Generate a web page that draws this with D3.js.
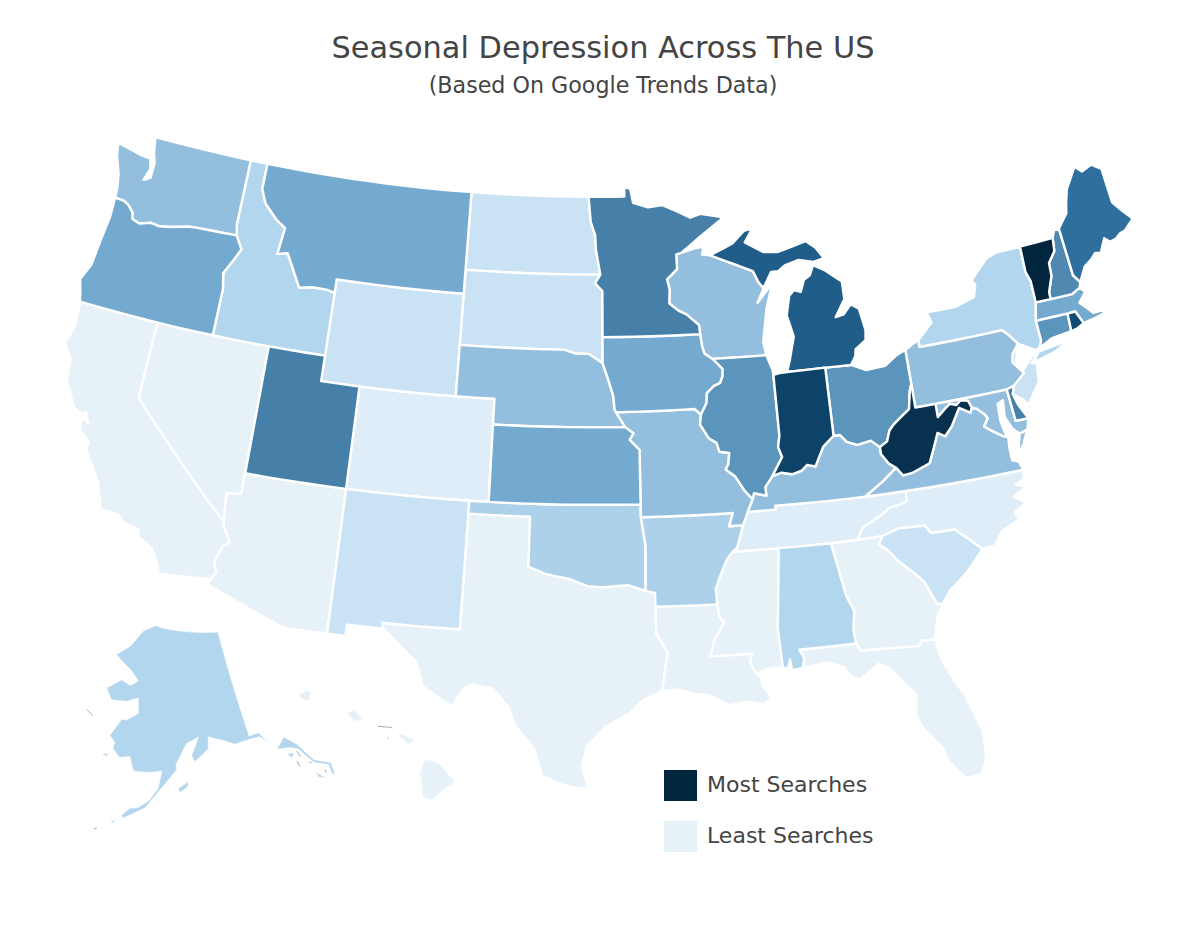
<!DOCTYPE html>
<html lang="en">
<head>
<meta charset="UTF-8">
<title>Seasonal Depression Across The US</title>
<script src="https://d3js.org/d3.v7.min.js"></script>
<style>
  body { margin: 0; background: #fff; }
  text { font-family: "DejaVu Sans", sans-serif; fill: #444; }
  .state { stroke: #fff; stroke-width: 2.4px; stroke-linejoin: round; }
  .inset { stroke-width: 0.6px; }
  .speck { fill: none; stroke: #aaa; stroke-width: 1px; }
</style>
</head>
<body>
<svg id="map" width="1200" height="940"></svg>
<script>
const titleText = "Seasonal Depression Across The US";
const subtitleText = "(Based On Google Trends Data)";
const legendLabels = ["Most Searches", "Least Searches"];
const legendValues = [100, 0];

const stateCodes = ["CA","NV","AZ","TX","LA","MS","GA","FL","HI","CO","TN","NC","ND","SD","WY","NM","SC","NJ","ID","NY","AL","AK","OK","AR","WA","WI","NE","MO","PA","VA","KY","MD","OR","MT","KS","IA","MA","OH","IL","CT","MN","UT","DE","NH","ME","MI","RI","IN","WV","VT"];
const stateValues = [0,0,0,0,0,0,0,0,0,5,5,5,15,15,15,15,15,15,25,25,25,25,27,27,35,35,35,35,35,35,35,35,50,50,50,50,50,60,60,60,70,70,70,66,80,85,90,92,97,100];

const colorStops = [0,5,15,25,35,50,60,70,80,90,100];
const colorRange = ["#e6f1f8","#deedf7","#c9e3f4","#b3d6ef","#93bedd","#74aad0","#5c95bb","#4680a8","#2e6f9d","#114a73","#03263f"];

// shared borders, lon/lat
const mnWi = [[-92.01,46.71],[-92.29,46.66],[-92.29,46.08],[-92.87,45.7],[-92.75,45.3],[-92.8,44.75],[-92.3,44.45],[-91.9,44.3],[-91.25,43.85],[-91.22,43.5]];
const wiIa = [[-91.22,43.5],[-91.15,43],[-91.05,42.73],[-90.64,42.51]];
const iaIl = [[-90.64,42.51],[-90.42,42.33],[-90.15,42.1],[-90.18,41.81],[-90.34,41.55],[-90.66,41.46],[-91.05,41.2],[-91.1,40.82],[-91.42,40.38]];
const moIl = [[-91.42,40.38],[-91.5,40],[-91.1,39.45],[-90.72,39.25],[-90.6,38.9],[-90.12,38.83],[-90.2,38.4],[-90.35,38.2],[-89.9,37.9],[-89.5,37.33],[-89.13,36.98]];
const tnAr = [[-89.7,36],[-90.07,35.13],[-90.3,35]];
const msAr = [[-90.3,35],[-90.6,34.7],[-90.95,34.1],[-91.2,33.6],[-91.17,33]];
const msLa = [[-91.17,33],[-91.1,32.5],[-90.9,32.3],[-91.4,31.6],[-91.63,31],[-89.73,31],[-89.85,30.65],[-89.6,30.2]];
const ilKy = [[-89.13,36.98],[-89.05,37.2],[-88.45,37.07],[-88.47,37.4],[-88.07,37.8]];
const inKy = [[-88.07,37.8],[-87.6,37.9],[-87.1,37.8],[-86.6,37.9],[-86.3,38.1],[-85.9,38],[-85.7,38.3],[-85.4,38.73],[-84.82,39.1]];
const ohKy = [[-84.82,39.1],[-84.5,39.1],[-84.2,38.8],[-83.7,38.63],[-83,38.72],[-82.6,38.42]];
const ohWv = [[-82.6,38.42],[-82.2,38.6],[-82,39],[-81.75,39.2],[-81.4,39.4],[-80.85,39.7],[-80.65,40.4],[-80.52,40.64]];
const kyWv = [[-82.6,38.42],[-82.6,38.15],[-82.3,37.75],[-81.97,37.54]];
const kyVa = [[-81.97,37.54],[-82.7,37.1],[-83.68,36.6]];
const kyTn = [[-83.68,36.6],[-88.07,36.65],[-88.07,36.5],[-89.42,36.5]];
const vaTn = [[-83.68,36.6],[-81.68,36.59]];
const ncTn = [[-81.68,36.59],[-81.7,36.2],[-82,36.12],[-82.6,36.03],[-83.1,35.77],[-84,35.42],[-84.32,34.99]];
const vaNc = [[-81.68,36.59],[-75.87,36.55]];
const wvVa = [[-81.97,37.54],[-81.68,37.2],[-81.23,37.24],[-80.3,37.5],[-80,38],[-79.65,38.6],[-79.3,38.42],[-78.87,38.77],[-78.35,39.4],[-77.83,39.13],[-77.72,39.32]];
const wvMd = [[-77.72,39.32],[-77.83,39.6],[-78.2,39.68],[-78.45,39.53],[-78.77,39.62],[-79.05,39.47],[-79.49,39.2],[-79.48,39.72]];
const wvPa = [[-79.48,39.72],[-80.52,39.72],[-80.52,40.64]];
const paMd = [[-79.48,39.72],[-75.79,39.72]];
const vaMd = [[-77.72,39.32],[-77.46,39.22],[-77.12,38.93],[-77.04,38.79],[-77.3,38.5],[-77,38.3],[-76.5,38],[-76.24,37.9]];
const columbia = [[-124,46.27],[-123.5,46.25],[-123.2,46.15],[-122.85,45.9],[-122.75,45.65],[-122.3,45.55],[-121.7,45.7],[-121.2,45.65],[-120.6,45.73],[-119.6,45.92],[-119,45.95],[-116.92,46]];
const snake = [[-116.92,46],[-116.5,45.5],[-116.85,44.95],[-117.2,44.45],[-117.03,43.85],[-117.03,42]];
const caAz = [[-114.63,35],[-114.57,34.8],[-114.15,34.27],[-114.45,34.05],[-114.72,33.4],[-114.52,33.03],[-114.72,32.72]];
const idMt = [[-116.05,49],[-116.05,48],[-115.7,47.45],[-114.9,46.9],[-114.35,46.65],[-114.5,45.6],[-113.95,45.7],[-113.45,45.05],[-113,44.45],[-112.3,44.55],[-111.5,44.55],[-111.05,44.47]];
const redRiver = [[-100,34.56],[-99.2,34.3],[-98.1,34.13],[-97.2,33.85],[-96.5,33.8],[-95.3,33.88],[-94.48,33.64]];
const sabine = [[-94.04,31.99],[-93.55,31.2],[-93.7,30.5],[-93.85,29.72]];
const neIa = [[-96.45,42.49],[-96.1,41.7],[-95.9,41.2],[-95.85,40.7],[-95.77,40.58]];
const neKsMo = [[-95.31,40],[-94.9,39.75],[-95.1,39.5],[-94.61,39.11],[-94.62,37]];
const neSd = [[-104.05,43],[-98.5,43],[-97.85,42.85],[-97.2,42.85],[-96.45,42.49]];
const ndMn = [[-97.23,49],[-97.1,48],[-96.85,47.5],[-96.8,46.9],[-96.56,45.94]];
const sdMn = [[-96.56,45.94],[-96.85,45.6],[-96.45,45.3],[-96.45,43.5]];
const flGa = [[-85,31],[-84.86,30.7],[-82.2,30.57],[-82.05,30.75],[-81.45,30.72]];
const alGa = [[-85.6,34.98],[-85.18,32.87],[-84.9,32.25],[-85.05,31.55],[-85,31]];
const gaSc = [[-83.11,35],[-83.35,34.7],[-83,34.47],[-82.55,33.95],[-81.9,33.4],[-81.5,33],[-81.1,32.1],[-80.85,32.03]];
const ncSc = [[-83.11,35],[-82.3,35.2],[-81.05,35.15],[-80.8,34.82],[-79.67,34.8],[-78.55,33.86]];
const alMs = [[-88.2,35],[-88.1,34.9],[-88.47,31.9],[-88.4,30.35]];
const paOh = [[-80.52,40.64],[-80.52,41.98]];
const nyPa = [[-79.76,42],[-75.35,42],[-75.05,41.75],[-74.7,41.36]];
const njPa = [[-74.7,41.36],[-75.1,41],[-75.2,40.7],[-74.75,40.2],[-75.4,39.8]];
const vtNy = [[-73.35,45],[-73.4,44],[-73.25,43.6],[-73.27,42.75]];
const vtNh = [[-71.5,45.01],[-71.6,44.5],[-72.05,44.1],[-72.1,43.6],[-72.45,43],[-72.46,42.73]];
const neMe = [[-71.03,45.3],[-70.98,43.4],[-70.7,43.07]];
const wiMiUp = [[-90.4,46.55],[-89.1,46.13],[-88.1,45.8],[-87.85,45.35],[-87.6,45.1]];

const rev = s => s.slice().reverse();
const ring = (...parts) => parts.flat();

const outlines = {
  WA: [ring([[-124.73,48.38],[-124.6,47.9],[-124.2,47.2],[-124.05,46.7]], columbia, [[-117.04,46.42],[-117.04,49],[-122.76,49],[-122.6,48.4],[-122.4,48],[-122.4,47.4],[-122.6,47.3],[-122.75,47.25],[-122.55,47.7],[-122.7,48.12],[-123.2,48.15]])],
  OR: [ring(columbia, snake, [[-124.21,42],[-124.4,42.5],[-124.55,42.84],[-124.2,43.5],[-124.1,44.5],[-123.97,45.5]])],
  CA: [ring([[-124.21,42],[-120,42],[-120,39]], caAz, [[-117.12,32.53],[-117.28,32.9],[-117.7,33.45],[-118.4,33.75],[-118.5,34.03],[-119.2,34.15],[-119.6,34.42],[-120.47,34.45],[-120.65,34.9],[-120.9,35.45],[-121.9,36.6],[-121.8,36.85],[-122.4,37.2],[-122.5,37.75],[-122.1,37.55],[-122.35,37.95],[-122.5,37.85],[-123,38],[-123.7,38.9],[-123.85,39.8],[-124.35,40.3],[-124.1,41]])],
  NV: [[[-120,42],[-114.04,42],[-114.04,36.2],[-114.75,36.1],[-114.63,35],[-120,39]]],
  ID: [ring([[-117.04,49]], idMt, [[-111.05,42]], rev(snake), [[-117.04,46.42]])],
  MT: [ring([[-116.05,49],[-104.05,49],[-104.05,45],[-111.05,45]], rev(idMt))],
  WY: [[[-111.05,45],[-104.05,45],[-104.05,41],[-111.05,41]]],
  UT: [[[-114.04,42],[-111.05,42],[-111.05,41],[-109.05,41],[-109.05,37],[-114.04,37]]],
  CO: [[[-109.05,41],[-102.05,41],[-102.05,37],[-109.05,37]]],
  AZ: [ring([[-114.04,37],[-109.05,37],[-109.05,31.33],[-111.07,31.33],[-114.81,32.5]], rev(caAz), [[-114.75,36.1],[-114.04,36.2]])],
  NM: [[[-109.05,37],[-103,37],[-103.04,32],[-106.62,32],[-106.53,31.78],[-108.21,31.78],[-108.21,31.33],[-109.05,31.33]]],
  TX: [ring([[-106.62,32],[-103.04,32],[-103,36.5],[-100,36.5]], redRiver, [[-94.04,33.55],[-94.04,33.02]], sabine, [[-94.7,29.4],[-95.3,28.9],[-96.4,28.35],[-97.2,27.6],[-97.4,26.8],[-97.15,25.96],[-97.6,25.95],[-98.3,26.1],[-99.1,26.4],[-99.5,27.5],[-100.3,28.3],[-100.7,29.1],[-101.4,29.77],[-102.35,29.87],[-102.7,29.7],[-103.15,28.98],[-104.5,29.65],[-104.9,30.6],[-106.53,31.78]])],
  OK: [ring([[-103,37],[-94.62,37],[-94.62,36.5],[-94.43,35.4]], rev(redRiver), [[-100,36.5],[-103,36.5]])],
  KS: [ring([[-102.05,40]], neKsMo, [[-102.05,37]])],
  NE: [ring(neSd, neIa, [[-95.31,40],[-102.05,40],[-102.05,41],[-104.05,41]])],
  SD: [ring([[-104.05,45.94]], sdMn, rev(neSd))],
  ND: [ring([[-104.05,49]], ndMn, [[-104.05,45.94]])],
  MN: [ring([[-97.23,49],[-95.15,49],[-95.15,49.38],[-94.8,49.3],[-94.65,48.75],[-93.8,48.55],[-92.95,48.62],[-92,48.3],[-91.4,48.07],[-90.8,48.2],[-89.5,48],[-90.9,47.3]], mnWi, rev(sdMn), rev(ndMn))],
  IA: [ring([[-96.45,43.5]], wiIa, iaIl, [[-91.73,40.61]], rev(neIa))],
  MO: [ring([[-95.77,40.58],[-91.73,40.61]], moIl, [[-89.42,36.5],[-89.7,36],[-90.37,36],[-90.15,36.5]], [[-94.62,36.5]], rev(neKsMo))],
  AR: [ring([[-94.62,36.5],[-90.15,36.5],[-90.37,36]], tnAr, msAr, [[-94.04,33.02],[-94.04,33.55],[-94.48,33.64],[-94.43,35.4]])],
  LA: [ring([[-94.04,33.02]], msLa, [[-89.4,30.05],[-89.4,29.8],[-89,29.2],[-89.4,29],[-90.1,29.15],[-90.9,29.05],[-91.8,29.5],[-92.3,29.55],[-93.2,29.77]], rev(sabine))],
  MS: [ring(alMs, [[-88.85,30.4],[-89.35,30.3]], rev(msLa), rev(msAr))],
  AL: [ring(alGa, [[-87.6,31],[-87.4,30.65],[-87.52,30.28],[-88,30.22],[-88.05,30.65],[-88.15,30.35]], rev(alMs))],
  GA: [ring(alGa.slice(0,1), gaSc, [[-81.15,31.6]], rev(flGa), rev(alGa))],
  FL: [ring([[-87.6,31]], flGa, [[-81.3,29.9],[-80.9,29],[-80.55,28.4],[-80.05,26.9],[-80.12,25.8],[-80.4,25.2],[-81.1,25.15],[-81.7,25.9],[-81.9,26.5],[-82.6,27.4],[-82.8,27.9],[-82.65,28.7],[-83,29.1],[-83.7,29.9],[-84.1,30.1],[-85,29.6],[-85.35,29.7],[-85.7,30.15],[-86.4,30.4],[-87.52,30.28],[-87.4,30.65]])],
  SC: [ring(ncSc, [[-79.1,33.4],[-79.6,33],[-80.4,32.5]], rev(gaSc))],
  NC: [ring([[-84.32,34.99]], ncSc, [[-77.95,33.9],[-77.5,34.4],[-76.6,34.7],[-76.7,35],[-76.1,35.3],[-76.6,35.6],[-75.9,35.9],[-76.4,36.05],[-75.95,36.2]], rev(vaNc), ncTn)],
  TN: [ring(rev(kyTn), vaTn, ncTn, [[-85.6,34.98],[-88.2,35],[-90.3,35],[-90.07,35.13],[-89.7,36]])],
  KY: [ring(ilKy, inKy, ohKy, kyWv, kyVa, kyTn)],
  IL: [ring([[-90.64,42.51],[-87.8,42.49],[-87.55,41.9],[-87.53,41.7],[-87.53,39.35],[-87.65,38.9],[-87.5,38.5]], rev(ilKy), rev(moIl), rev(iaIl))],
  IN: [ring([[-87.53,41.7],[-87.2,41.75],[-86.8,41.76],[-84.8,41.76]], rev(inKy), [[-87.5,38.5],[-87.65,38.9],[-87.53,39.35]])],
  OH: [ring([[-84.8,41.76],[-83.45,41.73],[-82.7,41.45],[-81.7,41.5],[-81,41.85]], rev(paOh), rev(ohWv), rev(ohKy))],
  PA: [ring(paOh, [[-80.08,42.16],[-79.76,42.27]], nyPa, njPa, [[-75.79,39.72]], rev(paMd), wvPa)],
  NY: [ring([[-79.76,42.27],[-78.9,42.85],[-79.05,43.27],[-77.5,43.27],[-76.4,43.5],[-76.2,43.95],[-76.35,44.15],[-75.3,44.85],[-74.7,45]], vtNy, [[-73.5,42.05],[-73.49,41.25],[-73.66,41],[-73.9,40.95]], rev(nyPa)), [[-74.03,40.6],[-73.75,40.87],[-72.6,40.97],[-72,41.07],[-72.9,40.72],[-73.9,40.55]]],
  NJ: [ring(rev(njPa), [[-75.55,39.5],[-75.1,39.2],[-74.9,38.95],[-74.1,39.75],[-74,40.45],[-74.25,40.5],[-74.05,40.65],[-73.9,40.95]])],
  DE: [[[-75.79,39.72],[-75.4,39.8],[-75.55,39.5],[-75.4,39.05],[-75.05,38.45],[-75.7,38.46]]],
  MD: [ring(paMd, [[-75.7,38.46],[-75.05,38.45],[-75.24,38.03],[-75.65,37.95],[-75.95,38.2],[-76.2,38.7],[-76.1,39.35],[-76.4,39.25],[-76.45,38.6],[-76.35,38.1]], rev(vaMd), wvMd)],
  VA: [ring(kyVa, vaTn, vaNc, [[-76,36.9],[-76.3,37],[-76.3,37.5]], rev(vaMd), rev(wvVa)), [[-75.95,37.15],[-75.65,37.95],[-75.24,38.03],[-75.6,37.5]]],
  WV: [ring(rev(kyWv), ohWv, rev(wvPa), rev(wvMd), rev(wvVa))],
  VT: [ring(vtNy, rev(vtNh))],
  NH: [ring(vtNh, [[-71.3,42.7],[-70.82,42.87]], rev(neMe), [[-71.3,45.3]])],
  ME: [ring(neMe, [[-70.25,43.6],[-69.8,43.8],[-69.5,44],[-69.2,43.95],[-69,44.2],[-68.8,44.45],[-68.55,44.25],[-68.2,44.3],[-67.9,44.45],[-67.6,44.5],[-67,44.85],[-67.45,45.3],[-67.8,45.7],[-67.8,47.07],[-68.3,47.35],[-68.9,47.2],[-69.23,47.46],[-70,46.7],[-70.25,46.2],[-70.4,45.8]])],
  MA: [[[-73.5,42.05],[-73.27,42.75],[-72.46,42.73],[-71.3,42.7],[-70.82,42.87],[-70.6,42.65],[-71.05,42.3],[-70.65,41.95],[-70.5,41.78],[-70,41.78],[-70.2,42.07],[-69.95,41.95],[-69.97,41.65],[-70.65,41.55],[-71.12,41.5],[-71.38,42.02],[-71.8,42.02]]],
  RI: [[[-71.8,42.02],[-71.38,42.02],[-71.12,41.5],[-71.5,41.37],[-71.85,41.32]]],
  CT: [[[-73.5,42.05],[-71.8,42.02],[-71.85,41.32],[-72.9,41.25],[-73.66,41],[-73.49,41.25]]],
  MI: [[[-86.8,41.76],[-84.8,41.76],[-83.45,41.73],[-83.15,42.05],[-83.1,42.3],[-82.5,42.6],[-82.42,43],[-82.6,43.85],[-83,44.07],[-83.45,43.72],[-83.9,43.65],[-83.3,44.3],[-83.3,45],[-84.1,45.5],[-84.75,45.78],[-85,45.4],[-85.35,45.25],[-85.6,44.8],[-85.95,44.9],[-86.25,44.7],[-86.5,43.95],[-86.25,43.1],[-86.6,42.2]],
       ring(wiMiUp, [[-87.1,45.7],[-86.7,45.7],[-86.3,45.9],[-85.5,46.05],[-84.7,45.9],[-84.1,46],[-84.5,46.45],[-85,46.75],[-86.6,46.45],[-87.4,46.5],[-88.4,46.95],[-87.9,47.47],[-88.4,47.4],[-89.1,46.95]])],
  WI: [ring([[-92.01,46.71],[-91.2,46.87],[-90.75,46.9],[-90.85,46.6]], wiMiUp, [[-88,44.55],[-87.1,45.25],[-87.55,44.3],[-87.9,43],[-87.8,42.49],[-90.64,42.51]], rev(wiIa), rev(mnWi))],
  AK: [[[-142.2,70.1],[-148.8,70.4],[-155.1,70.7],[-159.2,71],[-162.3,70.4],[-165.1,68.8],[-168.1,67.8],[-163.8,66.55],[-162,65.7],[-163.7,65.2],[-165.7,65.6],[-168.6,64.6],[-167.1,63.6],[-163.9,63.7],[-161.6,64.15],[-161.2,62.75],[-163.4,62],[-164.4,62],[-166.1,60.35],[-165,59.8],[-165.1,59.2],[-163.7,58.5],[-161.9,58.7],[-161,57.4],[-158.1,57.4],[-156.1,57.6],[-156.6,56],[-157.9,54.9],[-159.6,54.1],[-161,53.95],[-162.1,53.2],[-161.8,53],[-158.6,54.1],[-156.3,55.85],[-153.5,57.75],[-153.65,58.2],[-151.7,60.1],[-149.4,60.65],[-150.8,59],[-150.3,58.4],[-147.7,59.5],[-147.5,60.6],[-144.8,60.1],[-142.75,59.6],[-139.9,59.8],[-138,59.8],[-136,58.7],[-136.4,58.9],[-138.1,60.2],[-139.9,60.1]],
       [[-135.6,58.3],[-133.8,59.2],[-132,58.2],[-130.1,56.3],[-127.7,55.5],[-127.8,54.3],[-128.2,54.5],[-128.2,55.4],[-130.3,56.1],[-132,57.7],[-133.3,58.1]],
       [[-153.3,56],[-151.6,56.6],[-151.6,56.2],[-153,55.6]],
       [[-167,58.5],[-165.8,58.7],[-165.9,58.4]],
       [[-134.2,57.6],[-133,57.55],[-133.4,57.1]],
       [[-130.6,55.25],[-129.4,54.35],[-130.4,54.65]],
       [[-163.7,52.5],[-162.6,52.85],[-163.3,52.4]]],
  HI: [[[-155.86,20.16],[-155.46,20.02],[-154.95,19.49],[-155.26,19.3],[-155.66,18.97],[-155.92,19.06],[-156.02,19.73]],
       [[-156.72,20.88],[-156.47,20.83],[-156.14,20.69],[-156.37,20.57],[-156.57,20.75]],
       [[-158.24,21.45],[-158.04,21.58],[-157.76,21.31],[-158,21.23]],
       [[-159.72,21.98],[-159.46,22.12],[-159.33,22.03],[-159.41,21.83],[-159.61,21.85]]]
};

// tiny islands that only show as grey flecks
const alaskaSpecks = [[[-132.4,57.6],[-132.1,57]],[[-132.9,56.7],[-132.7,56.15]],[[-131,56.25],[-130.7,56.1]],[[-129,55.1],[-129,54.8]],[[-171.5,62.2],[-170.1,61.8]],[[-165.9,51.6],[-165.5,51.7]]];
const hawaiiSpecks = [[[-157.29,21.09],[-156.87,21.06]],[[-156.99,20.77],[-156.96,20.72]]];

const svg = d3.select("#map");
const color = d3.scaleLinear().domain(colorStops).range(colorRange);

const lower48 = d3.geoConicEqualArea().parallels([29.5, 45.5]).rotate([96.8, 0]).center([0, 38]).scale(1482).translate([596, 0]);
const alaska = d3.geoConicEqualArea().parallels([55, 65]).rotate([154, 0]).center([13, 65]).scale(620).translate([233, 685]);
const hawaii = d3.geoConicEqualArea().parallels([8, 18]).rotate([157, 0]).center([1.5, 19.6]).scale(2000).translate([437, 778]);

const planar = f => d3.geoPath(d3.geoTransform({ point(x, y) { const p = f([x, y]); this.stream.point(p[0], p[1]); } }));
const paths = {
  AK: planar(alaska),
  HI: planar(hawaii),
  other: planar(c => { const p = lower48(c); return [p[0], 479 + p[1] * 0.989]; })
};

// split long edges so straight parallels stay curved after projecting
const densify = r => {
  const out = [];
  r.concat([r[0]]).forEach((pt, i, all) => {
    if (i === 0) { out.push(pt); return; }
    const prev = all[i - 1];
    const n = Math.max(Math.ceil(Math.abs(pt[0] - prev[0])), 1);
    for (let k = 1; k <= n; k++) {
      out.push([prev[0] + (pt[0] - prev[0]) * k / n, prev[1] + (pt[1] - prev[1]) * k / n]);
    }
  });
  return out;
};

const features = stateCodes.map((code, i) => ({
  type: "Feature",
  id: code,
  properties: { value: stateValues[i] },
  geometry: { type: "MultiPolygon", coordinates: outlines[code].map(r => [densify(r)]) }
}));

svg.append("g").selectAll("path")
  .data(features)
  .enter().append("path")
  .attr("class", d => paths[d.id] ? "state inset" : "state")
  .attr("d", d => (paths[d.id] || paths.other)(d))
  .attr("fill", d => color(d.properties.value));

const speckLayer = svg.append("g");
[[alaskaSpecks, paths.AK], [hawaiiSpecks, paths.HI]].forEach(([lines, path]) => {
  speckLayer.selectAll(null)
    .data(lines)
    .enter().append("path")
    .attr("class", "speck")
    .attr("d", d => path({ type: "LineString", coordinates: d }));
});

svg.append("text").attr("x", 603).attr("y", 58).attr("text-anchor", "middle").attr("font-size", 30.4).text(titleText);
svg.append("text").attr("x", 603).attr("y", 93).attr("text-anchor", "middle").attr("font-size", 22.2).text(subtitleText);

const legend = svg.selectAll(".legend")
  .data(legendLabels)
  .enter().append("g")
  .attr("class", "legend")
  .attr("transform", (d, i) => `translate(664,${770 + i * 51})`);
legend.append("rect").attr("width", 33).attr("height", 31).attr("fill", (d, i) => color(legendValues[i]));
legend.append("text").attr("x", 43).attr("y", 21.5).attr("font-size", 22).text(d => d);
</script>
</body>
</html>
